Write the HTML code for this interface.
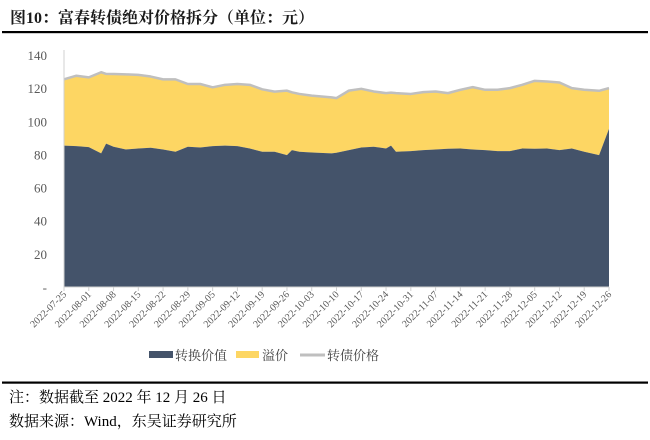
<!DOCTYPE html>
<html><head><meta charset="utf-8"><style>
body{margin:0;width:650px;height:435px;background:#fff;overflow:hidden;font-family:"Liberation Serif","Noto Serif CJK SC",serif;}
</style></head><body>
<svg width="650" height="435" xmlns="http://www.w3.org/2000/svg">
<text x="10" y="23" font-size="16" font-weight="bold" fill="#1a1a1a" font-family="Liberation Serif,Noto Serif CJK SC,serif">图10：富春转债绝对价格拆分（单位：元）</text>
<rect x="2" y="31" width="646" height="2.2" fill="#000"/>
<g id="plot"></g>
<g>
<g><rect x="149" y="351" width="24" height="7" fill="#44536a"/><text x="175" y="360" font-size="13" fill="#404040">转换价值</text></g>
<g><rect x="236" y="351" width="23" height="7" fill="#fdd663"/><text x="262" y="360" font-size="13" fill="#404040">溢价</text></g>
<g><line x1="300" y1="355" x2="325" y2="355" stroke="#bfbfbf" stroke-width="3"/><text x="327" y="360" font-size="13" fill="#404040">转债价格</text></g>
</g>
<rect x="2" y="381.5" width="646" height="2.2" fill="#000"/>
<text x="9" y="402" font-size="15" fill="#000">注：数据截至 2022 年 12 月 26 日</text>
<text x="9" y="426" font-size="15" fill="#000">数据来源：Wind，东吴证券研究所</text>
</svg>
<script>
const tickLabels=["2022-07-25","2022-08-01","2022-08-08","2022-08-15","2022-08-22","2022-08-29","2022-09-05","2022-09-12","2022-09-19","2022-09-26","2022-10-03","2022-10-10","2022-10-17","2022-10-24","2022-10-31","2022-11-07","2022-11-14","2022-11-21","2022-11-28","2022-12-05","2022-12-12","2022-12-19","2022-12-26"];
const weekPos=[0,0.5,1,1.5,1.7,2,2.5,3,3.5,4,4.5,5,5.5,6,6.5,7,7.5,8,8.5,9,9.2,9.5,10,10.8,11,11.5,12,12.5,13,13.2,13.4,14,14.5,15,15.5,16,16.5,17,17.5,18,18.5,19,19.5,20,20.5,21,21.6,22];
const conversionValue=[85.3,85,84.4,80.6,86.5,84.6,83,83.6,84,83,81.6,84.6,84.2,85,85.3,85,83.6,81.6,81.6,79.6,82.6,81.6,81.2,80.6,81,82.6,84.2,84.6,83.6,85.3,81.6,82,82.6,83,83.4,83.6,83,82.6,82,82,83.6,83.4,83.6,82.6,83.6,81.6,79.6,95.4];
const bondPrice=[125.3,127.5,126.5,129.6,128.6,128.5,128.3,128,127,125.3,125.3,122.5,122.5,120.5,122,122.5,122,119.3,117.9,118.5,117.5,116.5,115.5,114.4,114,118.5,119.6,118,117,117.3,117,116.5,117.6,118,117,119,120.6,119,119,120,122,124.4,124,123.4,120,119,118.4,120];
const yTicks=[0,20,40,60,80,100,120,140];
const X0=64,X1=609,Y0=287,Y140=55;
const xs=w=>X0+(X1-X0)*w/22;
const ys=v=>Y0-(Y0-Y140)*v/140;
const NS="http://www.w3.org/2000/svg";
const plot=document.getElementById('plot');
function mk(t,a){const e=document.createElementNS(NS,t);for(const k in a)e.setAttribute(k,a[k]);plot.appendChild(e);return e;}
const upperPts=weekPos.map((w,i)=>xs(w)+','+ys(bondPrice[i]));
const lowerPts=weekPos.map((w,i)=>xs(w)+','+ys(conversionValue[i])).reverse();
const prem=mk('polygon',{points:upperPts.concat(lowerPts).join(' '),fill:'#fdd663'});


const conv=weekPos.map((w,i)=>xs(w)+','+ys(conversionValue[i]));
conv.push(xs(weekPos[weekPos.length-1])+','+ys(0));conv.push(xs(0)+','+ys(0));
const ca=mk('polygon',{points:conv.join(' '),fill:'#44536a'});


const bl=mk('polyline',{points:upperPts.join(' '),fill:'none',stroke:'#bfbfbf','stroke-width':2.5,'stroke-linejoin':'round'});


const ax=mk('line',{x1:X0,y1:Y0,x2:X1,y2:Y0,stroke:'#d0d0d0','stroke-width':1});


const ay=mk('line',{x1:X0,y1:Y140-5,x2:X0,y2:Y0,stroke:'#d0d0d0','stroke-width':1});


yTicks.forEach(v=>{
  const t=mk('text',{x:47,y:ys(v)+5,'text-anchor':'end','font-size':13,fill:'#595959'});
  t.textContent=v===0?'-':String(v);
  
  
});
tickLabels.forEach((s,i)=>{
  const x=xs(i);
  const tk=mk('line',{x1:x,y1:Y0,x2:x,y2:Y0+4,stroke:'#d0d0d0'});
  
  
  const t=mk('text',{x:x+3,y:Y0+8,'text-anchor':'end','font-size':10,fill:'#595959',transform:`rotate(-45 ${x+3} ${Y0+8})`});
  t.textContent=s;
  
  
});
</script>
</body></html>
